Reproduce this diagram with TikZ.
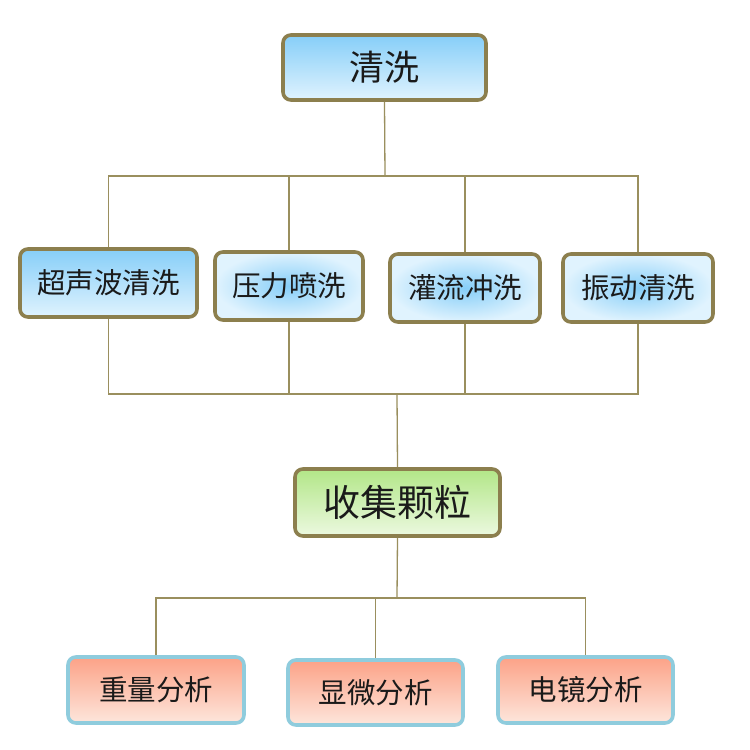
\documentclass[tikz,border=0pt]{standalone}
\usepackage{fontspec}
\newfontfamily\cjk{Noto Sans CJK SC}
\definecolor{bordergold}{HTML}{8C7F4E}
\definecolor{linec}{HTML}{9A8F5E}
\definecolor{bluetop}{HTML}{86CEF8}
\definecolor{bluebot}{HTML}{E0F3FE}
\definecolor{greentop}{HTML}{B2E687}
\definecolor{greenbot}{HTML}{ECF9E0}
\definecolor{redtop}{HTML}{FCA287}
\definecolor{redbot}{HTML}{FDE6DC}
\definecolor{redborder}{HTML}{8FCCDD}
\definecolor{txt}{HTML}{1A1A1A}
\begin{document}
\begin{tikzpicture}[x=1pt,y=-1pt,
  box/.style={rounded corners=8pt, line width=3.6pt, inner sep=0pt, text=txt, font=\cjk},
  bluelin/.style={box, draw=bordergold, top color=bluetop, bottom color=bluebot},
  bluerad/.style={box, draw=bordergold, shading=radial, inner color=bluetop, outer color=bluebot},
  greenbox/.style={box, draw=bordergold, top color=greentop, bottom color=greenbot},
  redbox/.style={box, draw=redborder, top color=redtop, bottom color=redbot},
  midtext/.style={font=\cjk\fontsize{28.5pt}{31pt}\selectfont},
  conn/.style={draw=linec, line width=1.3pt}]
\fill[white] (0,0) rectangle (750,750);
\useasboundingbox (0,0) rectangle (750,750);

\coordinate (j1) at (385,176);
\coordinate (j2) at (397,394);
\coordinate (j3) at (397,598);

\node[bluelin, minimum width=203pt, minimum height=65pt, font=\cjk\fontsize{35pt}{38pt}\selectfont] (top) at (384.5,67.5) {清洗};

\node[bluelin, midtext, minimum width=177pt, minimum height=68pt] (a) at (108.5,283) {超声波清洗};
\node[bluerad, midtext, minimum width=148pt, minimum height=68pt] (b) at (289,286) {压力喷洗};
\node[bluerad, midtext, minimum width=150pt, minimum height=68pt] (c) at (465,288) {灌流冲洗};
\node[bluerad, midtext, minimum width=150pt, minimum height=68pt] (d) at (638,288) {振动清洗};

\node[greenbox, minimum width=205pt, minimum height=67pt, font=\cjk\fontsize{37pt}{40pt}\selectfont] (e) at (397.5,502.5) {收集颗粒};

\node[redbox, midtext, minimum width=176pt, minimum height=66pt] (f) at (156,690) {重量分析};
\node[redbox, midtext, minimum width=175pt, minimum height=65pt] (g) at (375.5,692.5) {显微分析};
\node[redbox, midtext, minimum width=175pt, minimum height=66pt] (h) at (585.5,690) {电镜分析};

\draw[conn] (top.south) -- (j1);
\draw[conn] (a.north) |- (j1) -| (d.north);
\draw[conn] (b.north) -- (b.north |- j1);
\draw[conn] (c.north) -- (c.north |- j1);

\draw[conn] (a.south) |- (j2) -| (d.south);
\draw[conn] (b.south) -- (b.south |- j2);
\draw[conn] (c.south) -- (c.south |- j2);
\draw[conn] (j2) -- (e.north);

\draw[conn] (e.south) -- (j3);
\draw[conn] (f.north) |- (j3) -| (h.north);
\draw[conn] (g.north) -- (g.north |- j3);
\end{tikzpicture}
\end{document}
